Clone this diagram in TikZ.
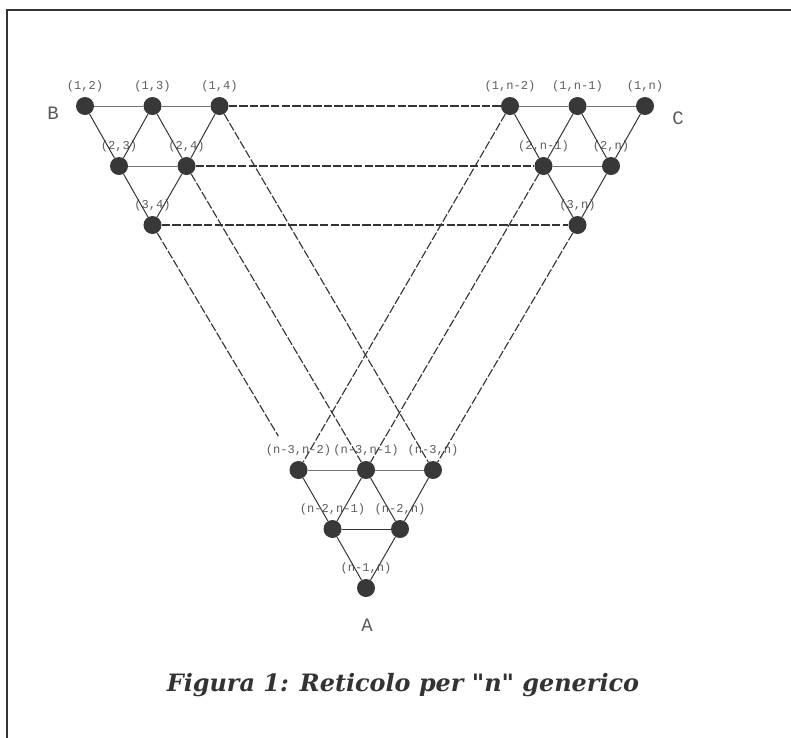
\documentclass[tikz,border=0pt]{standalone}
\usepackage{fontspec}
\newfontfamily\labfont{Liberation Mono}
\newfontfamily\capfont{DejaVu Serif}
\definecolor{dotgray}{HTML}{383838}
\definecolor{labgray}{HTML}{5C5C5C}
\definecolor{linegray}{HTML}{333333}
\tikzset{
  dot/.style={circle,fill=dotgray,inner sep=0pt,minimum size=0.45cm},
  lab/.style={font=\labfont\fontsize{8.6}{9}\selectfont,text=labgray,inner sep=0pt,label distance=0.1cm},
  lbl/.style={label={[lab]above:{#1}}},
  link/.style={draw=linegray,line width=0.7pt},
  flat/.style={draw=black!55,line width=0.7pt},
  far/.style={draw=linegray,line width=0.8pt,dash pattern=on 6pt off 1.5pt},
  corner/.style={font=\labfont\fontsize{13.5}{15}\selectfont,text=black!65},
}

\begin{document}
\begin{tikzpicture}[x=0.025cm,y=-0.025cm]
\useasboundingbox (0,0) rectangle (791,738);
\draw[line width=1.5pt,draw=black!80] (7,738) -- (7,10) -- (791,10);

% upper left corner
\node[dot,lbl={(1,2)}] (n12) at (85,106) {};
\node[dot,lbl={(1,3)}] (n13) at (152.5,106) {};
\node[dot,lbl={(1,4)}] (n14) at (219.5,106) {};
\node[dot,lbl={(2,3)}] (n23) at (119,166) {};
\node[dot,lbl={(2,4)}] (n24) at (186.5,166) {};
\node[dot,lbl={(3,4)}] (n34) at (152.5,225) {};

% upper right corner
\node[dot,lbl={(1,n-2)}] (n1a) at (510,106) {};
\node[dot,lbl={(1,n-1)}] (n1b) at (577.5,106) {};
\node[dot,lbl={(1,n)}] (n1c) at (645,106) {};
\node[dot,lbl={(2,n-1)}] (n2b) at (543.5,166) {};
\node[dot,lbl={(2,n)}] (n2c) at (611,166) {};
\node[dot,lbl={(3,n)}] (n3c) at (577.5,225) {};

% bottom corner
\node[dot,lbl={(n-3,n-2)}] (m1) at (298.5,470) {};
\node[dot,lbl={(n-3,n-1)}] (m2) at (366,470) {};
\node[dot,lbl={(n-3,n)}] (m3) at (433,470) {};
\node[dot,lbl={(n-2,n-1)}] (p1) at (332.5,529) {};
\node[dot,lbl={(n-2,n)}] (p2) at (400,529) {};
\node[dot,lbl={(n-1,n)}] (q) at (366,588) {};

\node[corner] (B) at (53,113) {B};
\node[corner] (C) at (678,118) {C};
\node[corner] (A) at (367,625) {A};

% solid edges
\draw[flat] (n12) -- (n13) -- (n14);
\draw[flat] (n1a) -- (n1b) -- (n1c);
\draw[flat] (n23) -- (n24);
\draw[flat] (n2b) -- (n2c);
\draw[flat] (m1) -- (m2) -- (m3);
\draw[link] (p1) -- (p2);
\draw[link] (n12) -- (n23) -- (n34);
\draw[link] (n13) -- (n23);
\draw[link] (n13) -- (n24) -- (n34);
\draw[link] (n14) -- (n24);
\draw[link] (n1a) -- (n2b) -- (n3c);
\draw[link] (n1b) -- (n2b);
\draw[link] (n1b) -- (n2c) -- (n3c);
\draw[link] (n1c) -- (n2c);
\draw[link] (m1) -- (p1) -- (q);
\draw[link] (m2) -- (p1);
\draw[link] (m2) -- (p2) -- (q);
\draw[link] (m3) -- (p2);

% dashed edges
\draw[far] (n14) -- (n1a);
\draw[far] (n24) -- (n2b);
\draw[far] (n34) -- (n3c);
\draw[far] (n14) -- (m3);
\draw[far] (n24) -- (m2);
\draw[far,shorten >=0.75cm] (n34) -- (m1);
\draw[far] (n1a) -- (m1);
\draw[far] (n2b) -- (m2);
\draw[far] (n3c) -- (m3);

\node[font=\capfont\bfseries\itshape\fontsize{17}{20}\selectfont,text=black!80,anchor=base] (cap) at (403,691) {Figura 1: Reticolo per "n" generico};
\end{tikzpicture}
\end{document}
